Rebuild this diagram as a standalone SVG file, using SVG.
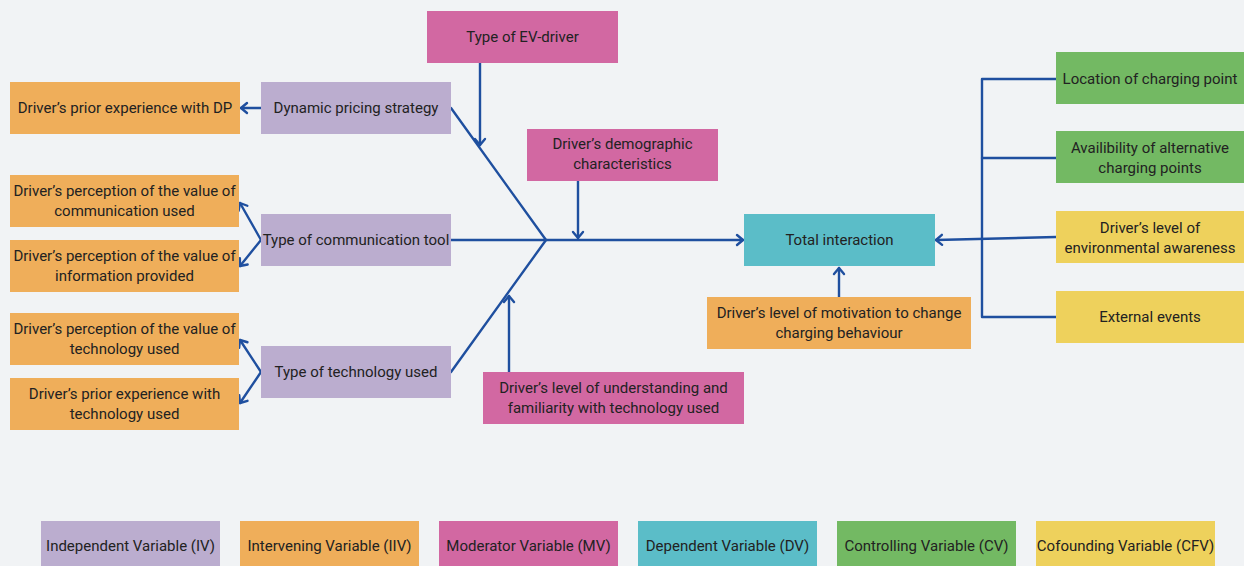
<svg xmlns="http://www.w3.org/2000/svg" width="1244" height="566" viewBox="0 0 1244 566">
  <style>
    .iv { fill: #bbadcf; }
    .iiv { fill: #efae5a; }
    .mv { fill: #d268a2; }
    .dv { fill: #5bbdc8; }
    .cv { fill: #73b963; }
    .cfv { fill: #eed15c; }
    text { font-family: Roboto, "Liberation Sans", sans-serif; font-size: 15px; fill: #222; text-anchor: middle; }
    .lg { font-size: 15px; }
    .edge { fill: none; stroke: #1f4f9f; stroke-width: 2.4; stroke-linecap: round; stroke-linejoin: round; }
  </style>
  <defs>
    <marker id="arr" markerUnits="userSpaceOnUse" markerWidth="14" markerHeight="14" refX="8" refY="7" orient="auto">
      <path d="M2,2 L8,7 L2,12" fill="none" stroke="#1f4f9f" stroke-width="2.4" stroke-linecap="round" stroke-linejoin="round"/>
    </marker>
  </defs>

  <rect width="1244" height="566" fill="#f1f3f5"/>

  <!-- connectors -->
  <g id="connectors">
    <!-- fishbone spine and ribs -->
    <path class="edge" d="M451,108 L546,240"/>
    <path class="edge" d="M451,372 L546,240"/>
    <path class="edge" d="M451,240 L743,240" marker-end="url(#arr)"/>
    <path class="edge" d="M480,63 L480,145" marker-end="url(#arr)"/>
    <path class="edge" d="M578,181 L578,238" marker-end="url(#arr)"/>
    <path class="edge" d="M509,372 L509,296" marker-end="url(#arr)"/>
    <path class="edge" d="M839,297 L839,268" marker-end="url(#arr)"/>
    <!-- independent variables to intervening variables -->
    <path class="edge" d="M261,108 L241,108" marker-end="url(#arr)"/>
    <path class="edge" d="M261,240 L240,203" marker-end="url(#arr)"/>
    <path class="edge" d="M261,240 L240,266" marker-end="url(#arr)"/>
    <path class="edge" d="M261,372 L240,340" marker-end="url(#arr)"/>
    <path class="edge" d="M261,372 L240,403" marker-end="url(#arr)"/>
    <!-- controlling / confounding bracket -->
    <path class="edge" d="M1056,79 L982,79 L982,317 L1056,317"/>
    <path class="edge" d="M982,158 L1056,158"/>
    <path class="edge" d="M1056,237 L936,240" marker-end="url(#arr)"/>
  </g>

  <g id="type-ev-driver">
    <rect class="mv" x="427" y="11" width="191" height="52"/>
    <text x="522.5" y="42">Type of EV-driver</text>
  </g>
  <g id="prior-experience-dp">
    <rect class="iiv" x="10" y="82" width="230" height="52"/>
    <text x="125" y="113">Driver’s prior experience with DP</text>
  </g>
  <g id="dynamic-pricing">
    <rect class="iv" x="261" y="82" width="190" height="52"/>
    <text x="356" y="113">Dynamic pricing strategy</text>
  </g>
  <g id="demographic">
    <rect class="mv" x="527" y="129" width="191" height="52"/>
    <text x="622.5" y="149">Driver’s demographic</text>
    <text x="622.5" y="169">characteristics</text>
  </g>
  <g id="perception-communication">
    <rect class="iiv" x="10" y="175" width="229" height="52"/>
    <text x="124.5" y="196">Driver’s perception of the value of</text>
    <text x="124.5" y="216">communication used</text>
  </g>
  <g id="perception-information">
    <rect class="iiv" x="10" y="240" width="229" height="52"/>
    <text x="124.5" y="261">Driver’s perception of the value of</text>
    <text x="124.5" y="281">information provided</text>
  </g>
  <g id="communication-tool">
    <rect class="iv" x="261" y="214" width="190" height="52"/>
    <text x="356" y="245">Type of communication tool</text>
  </g>
  <g id="perception-technology">
    <rect class="iiv" x="10" y="313" width="229" height="52"/>
    <text x="124.5" y="334">Driver’s perception of the value of</text>
    <text x="124.5" y="354">technology used</text>
  </g>
  <g id="prior-experience-technology">
    <rect class="iiv" x="10" y="378" width="229" height="52"/>
    <text x="124.5" y="399">Driver’s prior experience with</text>
    <text x="124.5" y="419">technology used</text>
  </g>
  <g id="technology-used">
    <rect class="iv" x="261" y="346" width="190" height="52"/>
    <text x="356" y="377">Type of technology used</text>
  </g>
  <g id="understanding">
    <rect class="mv" x="483" y="372" width="261" height="52"/>
    <text x="613.5" y="393">Driver’s level of understanding and</text>
    <text x="613.5" y="413">familiarity with technology used</text>
  </g>
  <g id="total-interaction">
    <rect class="dv" x="744" y="214" width="191" height="52"/>
    <text x="839.5" y="245">Total interaction</text>
  </g>
  <g id="motivation">
    <rect class="iiv" x="707" y="297" width="264" height="52"/>
    <text x="839" y="318">Driver’s level of motivation to change</text>
    <text x="839" y="338">charging behaviour</text>
  </g>
  <g id="location">
    <rect class="cv" x="1056" y="52" width="188" height="52"/>
    <text x="1150" y="84">Location of charging point</text>
  </g>
  <g id="availability">
    <rect class="cv" x="1056" y="131" width="188" height="52"/>
    <text x="1150" y="153">Availibility of alternative</text>
    <text x="1150" y="173">charging points</text>
  </g>
  <g id="environmental">
    <rect class="cfv" x="1056" y="211" width="188" height="52"/>
    <text x="1150" y="233">Driver’s level of</text>
    <text x="1150" y="253">environmental awareness</text>
  </g>
  <g id="external-events">
    <rect class="cfv" x="1056" y="291" width="188" height="52"/>
    <text x="1150" y="322">External events</text>
  </g>

  <!-- legend -->
  <g id="legend">
    <rect class="iv" x="41" y="521" width="179" height="45"/>
    <text class="lg" x="130.5" y="551">Independent Variable (IV)</text>
    <rect class="iiv" x="240" y="521" width="179" height="45"/>
    <text class="lg" x="329.5" y="551">Intervening Variable (IIV)</text>
    <rect class="mv" x="439" y="521" width="179" height="45"/>
    <text class="lg" x="528.5" y="551">Moderator Variable (MV)</text>
    <rect class="dv" x="638" y="521" width="179" height="45"/>
    <text class="lg" x="727.5" y="551">Dependent Variable (DV)</text>
    <rect class="cv" x="837" y="521" width="179" height="45"/>
    <text class="lg" x="926.5" y="551">Controlling Variable (CV)</text>
    <rect class="cfv" x="1036" y="521" width="179" height="45"/>
    <text class="lg" x="1125.5" y="551">Cofounding Variable (CFV)</text>
  </g>
</svg>
